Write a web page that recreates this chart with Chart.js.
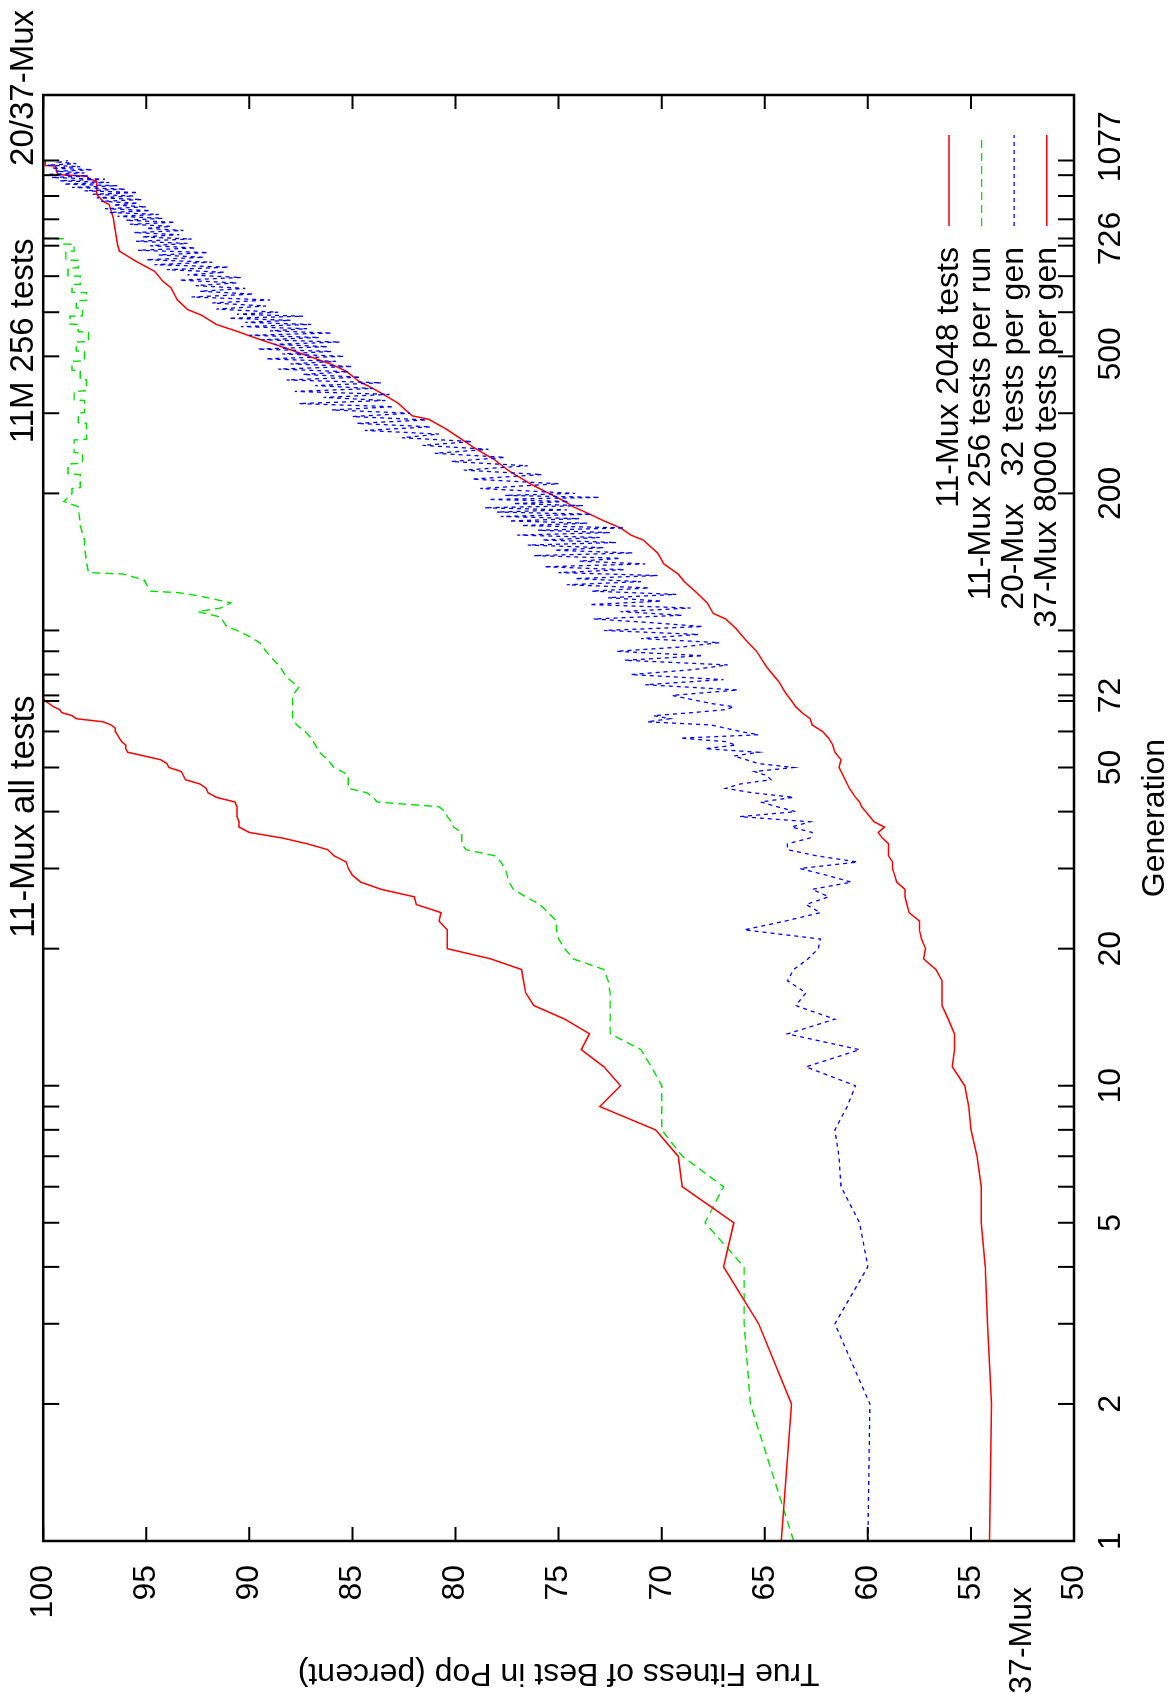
<!DOCTYPE html>
<html>
<head>
<meta charset="utf-8">
<script src="https://cdn.jsdelivr.net/npm/chart.js@4.4.0/dist/chart.umd.min.js"></script>
<style>
html, body { margin: 0; padding: 0; background: #fff; overflow: hidden; }
#giro { position: absolute; left: 0; top: 0; width: 1701px; height: 1175px;
        transform-origin: 0 0; transform: translateY(1701px) rotate(-90deg); }
</style>
</head>
<body>
<div id="giro"><canvas id="grafico" width="1701" height="1175"></canvas></div>
<script>
// ticks of the generation axis (log)
var genTicks = [1,2,3,4,5,6,7,8,9,10,20,30,40,50,60,70,72,80,90,100,200,300,400,500,600,700,726,800,900,1000,1077];
// where each generation label sits, and its text (the picture puts "500" and "1077" off their marks)
var genLabelPos = [1,2,5,10,20,50,72,200,405,726,1155];
var genLabelText = ['1','2','5','10','20','50','72','200','500','726','1077'];
var fitTicks = [50,55,60,65,70,75,80,85,90,95,100];

// 11-Mux 2048 tests
var mux11AllGen = [1,2,3,4,5,6,7,8,9,10,11,12,13,14,15,16,17,18,19,20,21,22,23,24,25,26,27,28,29,30,31,32,33,34,35,36,37,38,39,40,41,42,43,44,45,46,47,48,49,50,51,52,53,54,55,56,57,58,59,60,61,62,63,64,65,66,67,68,69,70,71,72];
var mux11AllFit = [64.2,63.7,65.3,67.0,66.5,69.0,69.2,70.3,73.0,72.0,72.8,73.9,73.5,74.7,76.2,76.6,76.7,76.8,78.3,80.4,80.4,80.4,80.8,80.7,81.9,82.0,83.6,84.6,85.0,85.2,85.3,85.9,86.2,87.2,88.4,90.0,90.5,90.5,90.6,90.6,90.6,90.7,91.6,92.0,92.1,92.4,93.1,93.2,93.3,93.9,94.0,94.3,95.1,95.9,96.0,96.0,96.2,96.3,96.4,96.5,96.5,96.7,97.1,98.4,98.6,99.1,99.2,99.5,99.7,99.9,100,100];

// 11-Mux 256 tests per run
var mux11RunGen = [1,2,3,4,5,6,7,8,9,10,11,12,13,14,15,16,17,18,19,20,21,22,23,24,25,26,27,28,29,30,31,32,33,34,35,36,37,38,39,40,41,42,43,44,45,46,47,48,49,50,52,54,56,58,60,62,64,66,68,70,72,75,79,83,86,90,94,97,100,102,107,110,112,115,119,121,122,129,133,134,141,153,158,170,187,192,
    200,205,206,220,221,232,233,245,246,262,263,285,286,300,301,320,321,335,336,355,356,372,373,390,391,410,411,430,431,452,453,470,471,490,491,510,511,530,531,552,553,575,576,600,601,625,626,650,651,680,681,705,706,725,726];
var mux11RunFit = [63.6,65.7,66.0,66.0,67.9,67.0,69.0,70.0,70.0,70.0,70.5,71.0,72.5,72.5,72.5,72.5,72.6,72.8,74.3,74.7,75.0,75.1,75.1,75.5,75.9,76.6,77.2,77.4,77.5,77.6,77.8,78.1,79.5,79.7,79.7,79.7,80.1,80.2,80.4,80.5,80.8,83.8,84.0,84.3,85.2,85.2,85.2,85.2,85.5,85.9,86.2,86.6,86.8,87.0,87.3,87.7,87.9,87.9,87.9,87.9,87.9,87.6,88.2,88.5,88.8,89.2,89.5,90.0,90.6,91.1,91.4,92.5,91.4,90.9,92.4,93.4,94.8,95.1,96.1,97.8,97.9,98.0,98.0,98.2,98.3,99.0,
    98.6,98.6,98.2,98.2,98.8,98.8,98.1,98.1,98.5,98.5,97.9,97.9,98.3,98.3,98.0,98.0,98.5,98.5,97.9,97.9,98.2,98.2,98.6,98.6,98.0,98.0,98.4,98.4,97.8,97.8,98.3,98.3,98.7,98.7,98.1,98.1,98.4,98.4,97.9,97.9,98.6,98.6,98.2,98.2,98.8,98.8,98.3,98.3,98.9,98.9,98.5,98.5,99.0,99.0,100];

// 20-Mux 32 tests per gen: every generation 1-70, every 2nd to 200, every 5th to 500, every 8th to 1076
var mux20FitA = [60.0,59.9,61.6,60.0,60.4,61.3,61.4,61.6,61.0,60.6,63.0,60.4,63.9,61.6,63.5,63.0,63.9,63.6,62.9,62.4,62.3,66.0,64.0,62.3,63.0,61.9,62.7,60.8,62.0,63.3,60.5,62.5,63.9,63.9,62.8,62.7,63.7,62.8,66.2,63.5,64.4,65.2,63.6,65.6,66.9,66.2,64.7,64.9,65.5,63.6,65.3,65.9,66.5,65.3,67.9,66.4,66.9,69.1,65.3,66.2,66.9,67.6,70.7,69.6,70.4,68.5,66.9,66.5,67.5,68.2];
var mux20FitB = [69.5,66.3,70.8,67.0,71.5,68.5,66.8,71.8,68.0,72.2,69.0,67.2,71.0,68.2,72.8,68.0,70.5,73.3,69.0,72.0,68.6,73.5,70.0,72.6,69.3,73.4,70.6,74.6,71.0,74.2,70.2,75.0,71.8,75.7,70.8,74.0,72.0,76.2,71.4,75.2,72.8,76.5,72.2,75.8,73.0,77.0,72.5,76.0,71.8,76.8,73.6,77.4,74.0,77.8,73.4,78.0,74.6,78.6,73.8,77.2,74.5,78.4,73.0,77.6,74.2];
var mux20FitC = [78.8,75.0,79.2,75.8,79.6,76.5,80.2,77.6,81.0,78.4,81.6,79.2,82.6,80.8,84.4,81.2,84.8,81.4,85.0,82.2,86.0,83.0,87.6,83.4,86.4,83.2,87.8,84.0,86.8,83.6,88.2,84.6,87.4,85.2,88.6,85.0,88.0,85.8,89.2,85.4,88.4,86.0,89.6,86.2,88.8,85.6,89.4,86.6,90.0,86.0,89.0,87.2,90.4,87.0,90.2,88.0,91.0,87.4,90.6,88.6];
var mux20FitD = [91.6,89.2,91.8,89.0,92.8,89.8,92.4,90.2,92.6,90.6,93.4,90.4,93.0,91.2,94.0,91.0,94.6,91.8,95.0,92.2,94.4,92.0,95.4,92.6,94.8,93.0,95.5,92.8,95.2,93.4,95.6,93.2,95.0,93.8,95.8,93.6,96.0,94.2,96.4,94.4,96.8,94.8,97.0,95.0,96.6,95.4,97.2,95.2,97.4,95.6,97.6,95.4,98.0,96.0,98.6,96.4,99.0,96.8,99.2,97.0,99.6,97.8,99.8,98.0,99.4,97.6,99.6,98.2,99.8,98.4,99.2,98.8];

// 37-Mux 8000 tests per gen
var mux37Gen = [1,2,3,4,5,6,7,8,9,10,11,12,13,14,15,16,17,18,19,20,21,22,23,24,25,26,27,28,29,30,31,32,33,34,35,36,37,38,39,40,41,42,43,45,47,48,50,52,54,56,58,60,62,64,66,68,70,73,77,83,90,95,101,106,109,115,121,128,133,140,148,158,162,168,174,181,187,192,209,224,237,252,276,291,296,316,338,353,371,384,400,421,439,454,470,492,507,533,566,585,615,647,664,681,704,806,862,877,907,971,979,995,1003,1047,1050,1077];
var mux37Fit = [54.1,54.0,54.2,54.3,54.5,54.5,54.7,55.0,55.1,55.3,55.9,55.8,55.8,56.1,56.4,56.4,56.4,56.7,57.3,57.2,57.4,57.5,57.5,58.0,58.1,58.2,58.2,58.6,58.7,58.8,58.8,59.0,59.0,59.0,59.3,59.5,59.2,59.7,59.9,60.1,60.3,60.4,60.6,60.9,61.1,61.2,61.4,61.3,61.6,61.7,61.9,62.2,62.7,62.8,63.2,63.5,63.7,64.0,64.3,64.9,65.4,65.9,66.4,66.9,67.5,67.8,68.3,68.9,69.2,69.9,70.2,70.9,71.5,72.0,72.8,73.6,74.3,74.7,76.3,77.4,78.1,79.1,80.4,81.3,82.1,82.8,83.9,84.7,85.3,86.0,87.1,88.5,89.7,90.6,91.6,92.3,93.0,93.5,93.8,94.2,94.6,95.5,95.9,96.3,96.4,96.6,96.8,97.1,97.4,97.4,97.7,97.9,99.3,99.4,99.9,99.9];

function juntar(gens, fits) {
    return gens.map((g, i) => ({ x: g, y: fits[i] }));
}
function tramo(inicio, paso, fits) {
    return fits.map((f, i) => ({ x: inicio + i * paso, y: f }));
}

var mux20Puntos = tramo(1, 1, mux20FitA)
    .concat(tramo(72, 2, mux20FitB))
    .concat(tramo(205, 5, mux20FitC))
    .concat(tramo(508, 8, mux20FitD));

var fuente = '"Liberation Sans", Arial, Helvetica, sans-serif';

var marcas = {
    id: 'marcas',
    afterDraw(chart) {
        var a = chart.chartArea, sx = chart.scales.x, sy = chart.scales.y, ctx = chart.ctx;
        ctx.save();
        ctx.strokeStyle = '#000';
        ctx.lineWidth = 2;
        ctx.beginPath();
        genTicks.forEach(v => {
            var p = sx.getPixelForValue(v);
            ctx.moveTo(p, a.bottom); ctx.lineTo(p, a.bottom - 16);
            ctx.moveTo(p, a.top); ctx.lineTo(p, a.top + 16);
        });
        fitTicks.forEach(v => {
            var p = sy.getPixelForValue(v);
            ctx.moveTo(a.left, p); ctx.lineTo(a.left + 14, p);
            ctx.moveTo(a.right, p); ctx.lineTo(a.right - 14, p);
        });
        ctx.stroke();
        ctx.lineWidth = 2.5;
        ctx.strokeRect(a.left, a.top, a.right - a.left, a.bottom - a.top);
        ctx.restore();
    }
};

var leyenda = {
    id: 'leyenda',
    afterDraw(chart) {
        var a = chart.chartArea, ctx = chart.ctx;
        var fila0 = a.bottom - 125;
        chart.data.datasets.forEach((ds, i) => {
            var y = fila0 + i * 32.6;
            ctx.save();
            ctx.font = '32px ' + fuente;
            ctx.fillStyle = '#000';
            ctx.textAlign = 'right';
            ctx.textBaseline = 'middle';
            ctx.fillText(ds.label, a.right - 152, y);
            ctx.strokeStyle = ds.borderColor;
            ctx.lineWidth = ds.borderWidth;
            ctx.setLineDash(ds.borderDash || []);
            ctx.beginPath();
            ctx.moveTo(a.right - 131, y);
            ctx.lineTo(a.right - 40, y);
            ctx.stroke();
            ctx.restore();
        });
    }
};

var rotulos = {
    id: 'rotulos',
    afterDraw(chart) {
        var a = chart.chartArea, sx = chart.scales.x, sy = chart.scales.y, ctx = chart.ctx;
        ctx.save();
        ctx.fillStyle = '#000';
        ctx.textAlign = 'right';
        ctx.textBaseline = 'middle';
        ctx.font = '35px ' + fuente;
        ctx.fillText('11-Mux all tests', sx.getPixelForValue(72), 24);
        ctx.font = '33px ' + fuente;
        ctx.fillText('11M 256 tests', sx.getPixelForValue(726), 24);
        ctx.fillText('20/37-Mux', a.right + 85, 24);
        ctx.font = '32px ' + fuente;
        ctx.fillText('37-Mux', 114, sy.getPixelForValue(52.5));
        ctx.restore();
    }
};

new Chart(document.getElementById('grafico').getContext('2d'), {
    type: 'line',
    data: {
        datasets: [
            {
                label: '11-Mux 2048 tests',
                data: juntar(mux11AllGen, mux11AllFit),
                borderColor: '#ff0000',
                borderWidth: 1.5
            },
            {
                label: '11-Mux 256 tests per run',
                data: juntar(mux11RunGen, mux11RunFit),
                borderColor: '#00e000',
                borderWidth: 1.4,
                borderDash: [8, 5]
            },
            {
                label: '20-Mux   32 tests per gen',
                data: mux20Puntos,
                borderColor: '#0000ff',
                borderWidth: 1.3,
                borderDash: [4, 4]
            },
            {
                label: '37-Mux 8000 tests per gen',
                data: juntar(mux37Gen, mux37Fit),
                borderColor: '#ff0000',
                borderWidth: 1.5
            }
        ]
    },
    options: {
        responsive: false,
        animation: false,
        devicePixelRatio: 1,
        layout: { padding: { top: 43, right: 95, bottom: 0, left: 0 } },
        elements: { point: { radius: 0 }, line: { tension: 0, fill: false } },
        plugins: { legend: { display: false }, tooltip: { enabled: false } },
        scales: {
            x: {
                type: 'logarithmic',
                min: 1,
                max: 1500,
                afterBuildTicks: s => { s.ticks = genLabelPos.map(v => ({ value: v })); },
                afterFit: s => { s.height = 101; },
                ticks: {
                    autoSkip: false, maxRotation: 0, minRotation: 0, padding: 18,
                    color: '#000', font: { family: fuente, size: 32 },
                    callback: (v, i) => genLabelText[i]
                },
                grid: { display: false, drawTicks: false },
                border: { display: false },
                title: {
                    display: true, text: 'Generation', color: '#000',
                    font: { family: fuente, size: 32 }, padding: { top: 0, bottom: 1 }
                }
            },
            y: {
                min: 50,
                max: 100,
                afterFit: s => { s.width = 160; },
                ticks: {
                    stepSize: 5, padding: 24, color: '#000',
                    font: { family: fuente, size: 32 }
                },
                grid: { display: false, drawTicks: false },
                border: { display: false },
                title: {
                    display: true, text: 'True Fitness of Best in Pop (percent)', color: '#000',
                    font: { family: fuente, size: 32 }, padding: { top: 9, bottom: 0 }
                }
            }
        }
    },
    plugins: [marcas, leyenda, rotulos]
});
</script>
</body>
</html>
